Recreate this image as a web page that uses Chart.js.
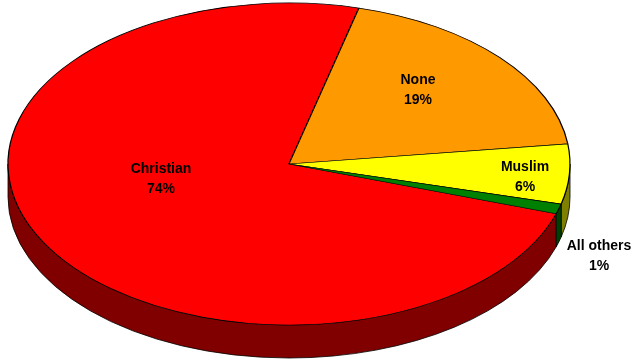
<!DOCTYPE html>
<html>
<head>
<meta charset="utf-8">
<script src="https://cdn.jsdelivr.net/npm/chart.js@4"></script>
<style>
  body { margin: 0; background: #fff; }
  #wrap { width: 636px; height: 360px; }
</style>
</head>
<body>
<div id="wrap"><canvas id="pie" width="636" height="360"></canvas></div>
<script>
const categories = ["Christian", "None", "Muslim", "All others"];
const shares = [74, 19, 6, 1];
const topColors = ["#FF0000", "#FF9900", "#FFFF00", "#008000"];
const sideColors = ["#800000", "#995C00", "#808000", "#004000"];

// where the pie lands on the page (ellipse + depth of the rim)
const ell = { cx: 289, cy: 164, rx: 281, ry: 161, depth: 33 };
// label block centres
const labelPos = [[161, 179], [418, 90], [525, 177], [599, 256]];

const ctxPie = document.getElementById("pie").getContext("2d");

const pie3d = {
  id: "pie3d",
  beforeDatasetsDraw(chart) {
    const ctx = chart.ctx;
    const meta = chart.getDatasetMeta(0);
    const first = meta.data[0];
    const r = first.outerRadius;

    // rim of the pie, only the front half is visible
    ctx.save();
    ctx.lineWidth = 0.8;
    ctx.strokeStyle = "#000";
    meta.data.forEach((arc, i) => {
      for (let k = -1; k <= 2; k++) {
        const s = Math.max(arc.startAngle, 2 * Math.PI * k);
        const e = Math.min(arc.endAngle, 2 * Math.PI * k + Math.PI);
        if (e <= s) continue;
        ctx.beginPath();
        ctx.ellipse(ell.cx, ell.cy, ell.rx, ell.ry, 0, s, e);
        ctx.ellipse(ell.cx, ell.cy + ell.depth, ell.rx, ell.ry, 0, e, s, true);
        ctx.closePath();
        ctx.fillStyle = sideColors[i];
        ctx.fill();
        ctx.stroke();
      }
    });
    ctx.restore();

    // squash the library's circle into the ellipse for the top face
    ctx.save();
    ctx.translate(ell.cx, ell.cy);
    ctx.scale(ell.rx / r, ell.ry / r);
    ctx.translate(-first.x, -first.y);
  },
  afterDatasetsDraw(chart) {
    const ctx = chart.ctx;
    ctx.restore();

    ctx.save();
    ctx.fillStyle = "#000";
    ctx.font = "bold 14px 'Liberation Sans', Arial, sans-serif";
    ctx.textAlign = "center";
    ctx.textBaseline = "middle";
    categories.forEach((name, i) => {
      const [x, y] = labelPos[i];
      ctx.fillText(name, x, y - 10);
      ctx.fillText(shares[i] + "%", x, y + 10);
    });
    ctx.restore();
  }
};

const chart = new Chart(ctxPie, {
  type: "pie",
  data: {
    labels: categories,
    datasets: [{
      data: shares,
      backgroundColor: topColors,
      borderColor: "#000",
      borderWidth: 0.8,
      clip: false
    }]
  },
  options: {
    responsive: false,
    animation: false,
    events: [],
    rotation: 108,
    plugins: {
      legend: { display: false },
      tooltip: { enabled: false }
    }
  },
  plugins: [pie3d]
});
</script>
</body>
</html>
